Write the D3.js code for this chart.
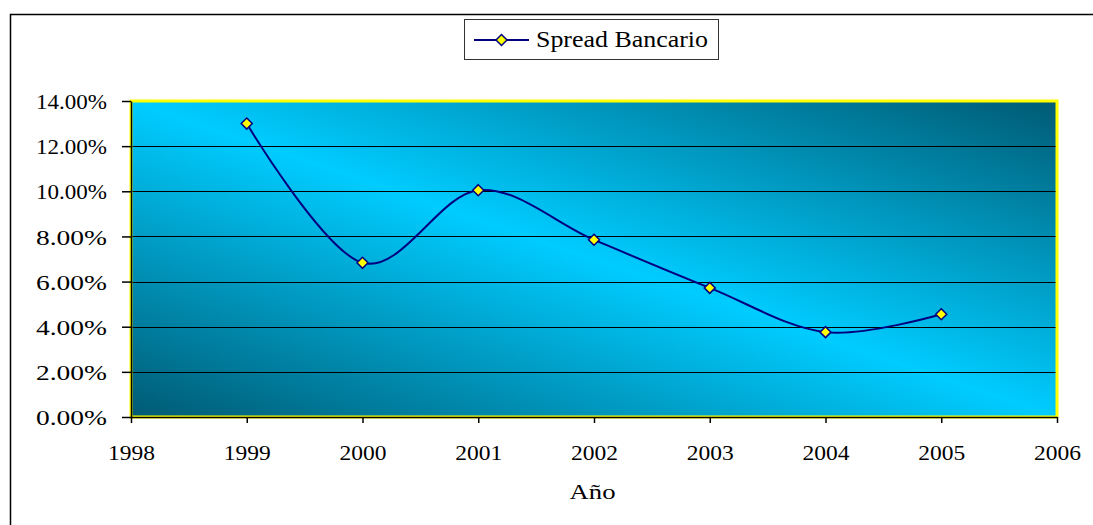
<!DOCTYPE html>
<html><head><meta charset="utf-8">
<script src="https://cdn.jsdelivr.net/npm/d3@7"></script>
<style>body{margin:0;background:#fff}svg{display:block}</style>
</head><body>
<script>
const years = [1999, 2000, 2001, 2002, 2003, 2004, 2005];
const spread = [0.1300, 0.0683, 0.1005, 0.0785, 0.0572, 0.0376, 0.0455];
const xTicks = [1998, 1999, 2000, 2001, 2002, 2003, 2004, 2005, 2006];
const yTicks = [0, 0.02, 0.04, 0.06, 0.08, 0.10, 0.12, 0.14];
const seriesName = "Spread Bancario";
const xTitle = "Año";

const W = 1093, H = 525;
const svg = d3.select("body").append("svg").attr("width", W).attr("height", H);
const font = "'Liberation Serif', 'Times New Roman', serif";

// outer chart border
svg.append("rect").attr("x", 10.5).attr("y", 14.5).attr("width", 1200).attr("height", 600)
  .attr("fill", "#fff").attr("stroke", "#000").attr("stroke-width", 1.5);

const L = 131, R = 1057, T = 101, B = 417;
const x = d3.scaleLinear().domain([1998, 2006]).range([L, R]);
const y = d3.scaleLinear().domain([0, 0.14]).range([B, T]);

const defs = svg.append("defs");
const g = defs.append("linearGradient").attr("id", "bg")
  .attr("x1", 0).attr("y1", 1).attr("x2", 1).attr("y2", 0);
g.append("stop").attr("offset", 0).attr("stop-color", "#005a73");
g.append("stop").attr("offset", 0.5).attr("stop-color", "#00ccff");
g.append("stop").attr("offset", 1).attr("stop-color", "#005a73");

svg.append("rect").attr("x", L).attr("y", T).attr("width", R - L).attr("height", B - T)
  .attr("fill", "url(#bg)").attr("stroke", "#ffff00").attr("stroke-width", 3);

// gridlines
svg.append("g").selectAll("line").data(yTicks.filter(d => d > 0 && d < 0.14)).join("line")
  .attr("x1", L + 1.5).attr("x2", R - 1.5)
  .attr("y1", d => Math.round(y(d)) + 0.5).attr("y2", d => Math.round(y(d)) + 0.5)
  .attr("stroke", "#000").attr("stroke-width", 1);

// axes
const yAxis = d3.axisLeft(y).tickValues(yTicks).tickFormat(d3.format(".2%")).tickSize(9).tickSizeOuter(0);
const ya = svg.append("g").attr("transform", `translate(${L},0)`).call(yAxis);
const xAxis = d3.axisBottom(x).tickValues(xTicks).tickFormat(d3.format("d")).tickSize(6).tickSizeOuter(0);
const xa = svg.append("g").attr("transform", `translate(0,${B})`).call(xAxis);
[ya, xa].forEach(a => {
  a.select(".domain").attr("stroke", "#000").attr("stroke-width", 1.5);
  a.selectAll(".tick line").attr("stroke", "#000").attr("stroke-width", 1.5);
  a.selectAll("text").attr("fill", "#000").style("font-family", font).style("font-size", "22px");
});
ya.selectAll("text").attr("x", -24).attr("dy", "0.35em").attr("textLength", 71).attr("lengthAdjust", "spacingAndGlyphs");
xa.selectAll("text").attr("y", 43).attr("dy", null).attr("textLength", 47).attr("lengthAdjust", "spacingAndGlyphs");

svg.append("text").attr("x", 592.5).attr("y", 499).attr("text-anchor", "middle")
  .attr("textLength", 46).attr("lengthAdjust", "spacingAndGlyphs")
  .style("font-family", font).style("font-size", "21px").attr("fill", "#000").text(xTitle);

// line
const pts = years.map((yr, i) => [x(yr), y(spread[i])]);
svg.append("path").attr("d", d3.line().curve(d3.curveCatmullRom.alpha(0))(pts))
  .attr("fill", "none").attr("stroke", "#000080").attr("stroke-width", 2);

const diamond = s => `M0,${-s}L${s},0L0,${s}L${-s},0Z`;
svg.append("g").selectAll("path").data(pts).join("path")
  .attr("transform", d => `translate(${d[0]},${d[1]})`).attr("d", diamond(5.5))
  .attr("fill", "#ffff00").attr("stroke", "#000080").attr("stroke-width", 1.5);

// legend
const lg = svg.append("g");
lg.append("rect").attr("x", 464.5).attr("y", 19.5).attr("width", 254).attr("height", 40)
  .attr("fill", "#fff").attr("stroke", "#333").attr("stroke-width", 1);
lg.append("line").attr("x1", 474).attr("x2", 529).attr("y1", 40).attr("y2", 40)
  .attr("stroke", "#000080").attr("stroke-width", 2);
lg.append("path").attr("transform", "translate(501.5,40)").attr("d", diamond(5.5))
  .attr("fill", "#ffff00").attr("stroke", "#000080").attr("stroke-width", 1.5);
lg.append("text").attr("x", 536).attr("y", 47).attr("textLength", 172).attr("lengthAdjust", "spacingAndGlyphs")
  .style("font-family", font).style("font-size", "23px")
  .attr("fill", "#000").text(seriesName);
</script>
</body></html>
